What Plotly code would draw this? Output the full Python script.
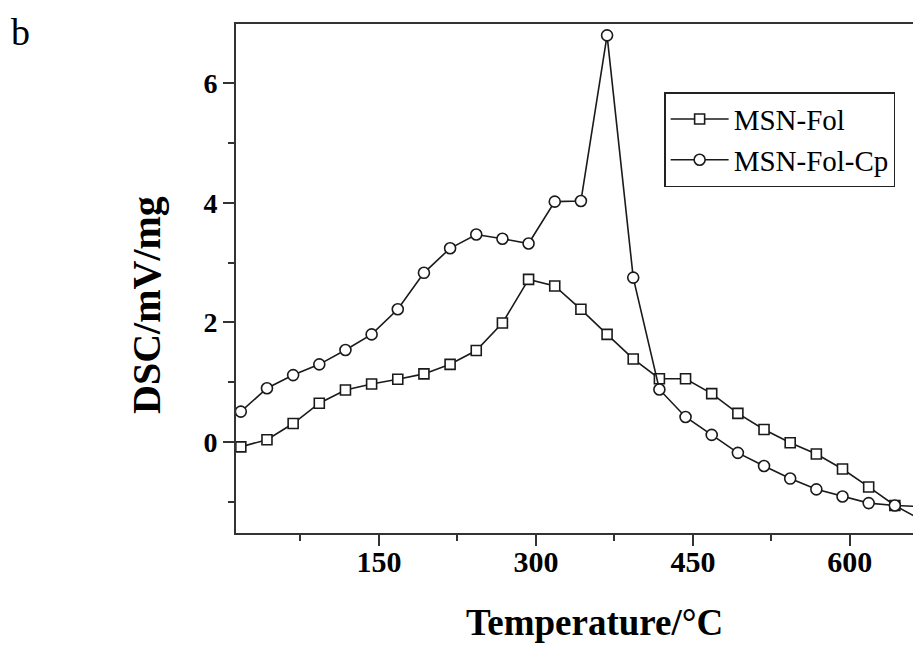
import plotly.graph_objects as go

temperature = [18, 43, 68, 93, 118, 143, 168, 193, 218, 243, 268, 293, 318, 343,
               368, 393, 418, 443, 468, 493, 518, 543, 568, 593, 618, 643, 668]
msn_fol = [-0.08, 0.04, 0.31, 0.65, 0.87, 0.97, 1.05, 1.14, 1.30, 1.53, 1.99, 2.72, 2.61,
           2.22, 1.80, 1.39, 1.06, 1.06, 0.81, 0.48, 0.21, -0.01, -0.20, -0.45, -0.75,
           -1.06, -1.30]
msn_fol_cp = [0.51, 0.90, 1.12, 1.30, 1.54, 1.80, 2.22, 2.83, 3.24, 3.47, 3.40, 3.32, 4.02,
              4.03, 6.80, 2.75, 0.88, 0.42, 0.12, -0.18, -0.40, -0.61, -0.79, -0.91, -1.02,
              -1.06, -1.08]
x_ticks = [150, 300, 450, 600]
y_ticks = [0, 2, 4, 6]

serif = "Liberation Serif"
line_col = "#1a1a1a"
axis_col = "#333"

fig = go.Figure()
fig.add_trace(go.Scatter(
    x=temperature, y=msn_fol, name="MSN-Fol", mode="lines+markers",
    line=dict(color=line_col, width=1.6),
    marker=dict(symbol="square", size=10, color="white", line=dict(color=line_col, width=1.6)),
))
fig.add_trace(go.Scatter(
    x=temperature, y=msn_fol_cp, name="MSN-Fol-Cp", mode="lines+markers",
    line=dict(color=line_col, width=1.6),
    marker=dict(symbol="circle", size=11, color="white", line=dict(color=line_col, width=1.6)),
))

axis_common = dict(
    showline=True, linecolor=axis_col, linewidth=1.8, ticks="outside", ticklen=11,
    tickwidth=1.5, tickcolor=axis_col, showgrid=False, zeroline=False, automargin=False,
)

fig.update_xaxes(
    range=[13.4, 668], tickvals=x_ticks, mirror=True, ticklabelstandoff=-10,
    minor=dict(ticks="outside", ticklen=6, tickwidth=1.5, tickcolor=axis_col, dtick=75, tick0=0),
    tickfont=dict(family=serif, size=30, color="black", weight="bold"),
    **axis_common,
)
fig.update_yaxes(
    range=[-1.52, 6.99], tickvals=y_ticks, mirror=False,
    minor=dict(ticks="outside", ticklen=6, tickwidth=1.5, tickcolor=axis_col, dtick=1, tick0=0),
    tickfont=dict(family=serif, size=28, color="black", weight="bold"),
    **axis_common,
)

# axis titles
fig.add_annotation(text="Temperature/°C", xref="paper", yref="paper", x=0.524, y=-0.175,
                   xanchor="center", yanchor="middle", showarrow=False,
                   font=dict(family=serif, size=37, color="black", weight="bold"))
fig.add_annotation(text="DSC/mV/mg", xref="paper", yref="paper", x=-0.130, y=0.448,
                   xanchor="center", yanchor="middle", showarrow=False, textangle=-90,
                   font=dict(family=serif, size=40, color="black", weight="bold"))
# panel label
fig.add_annotation(text="b", xref="paper", yref="paper", x=-0.3139, y=0.985,
                   xanchor="center", yanchor="middle", showarrow=False,
                   font=dict(family=serif, size=38, color="black"))

# the page body adds an 8px offset, so the figure is sized to fill the rest of the window
fig.update_layout(
    width=913, height=638,
    margin=dict(l=228, r=0, t=16, b=113, autoexpand=False),
    paper_bgcolor="white", plot_bgcolor="white",
    showlegend=True,
    legend=dict(x=0.625, y=0.866, xanchor="left", yanchor="top",
                bordercolor="#222", borderwidth=1.5, bgcolor="white",
                font=dict(family=serif, size=29, color="black"),
                tracegroupgap=0, itemwidth=58),
)

fig.write_html("out.html")
